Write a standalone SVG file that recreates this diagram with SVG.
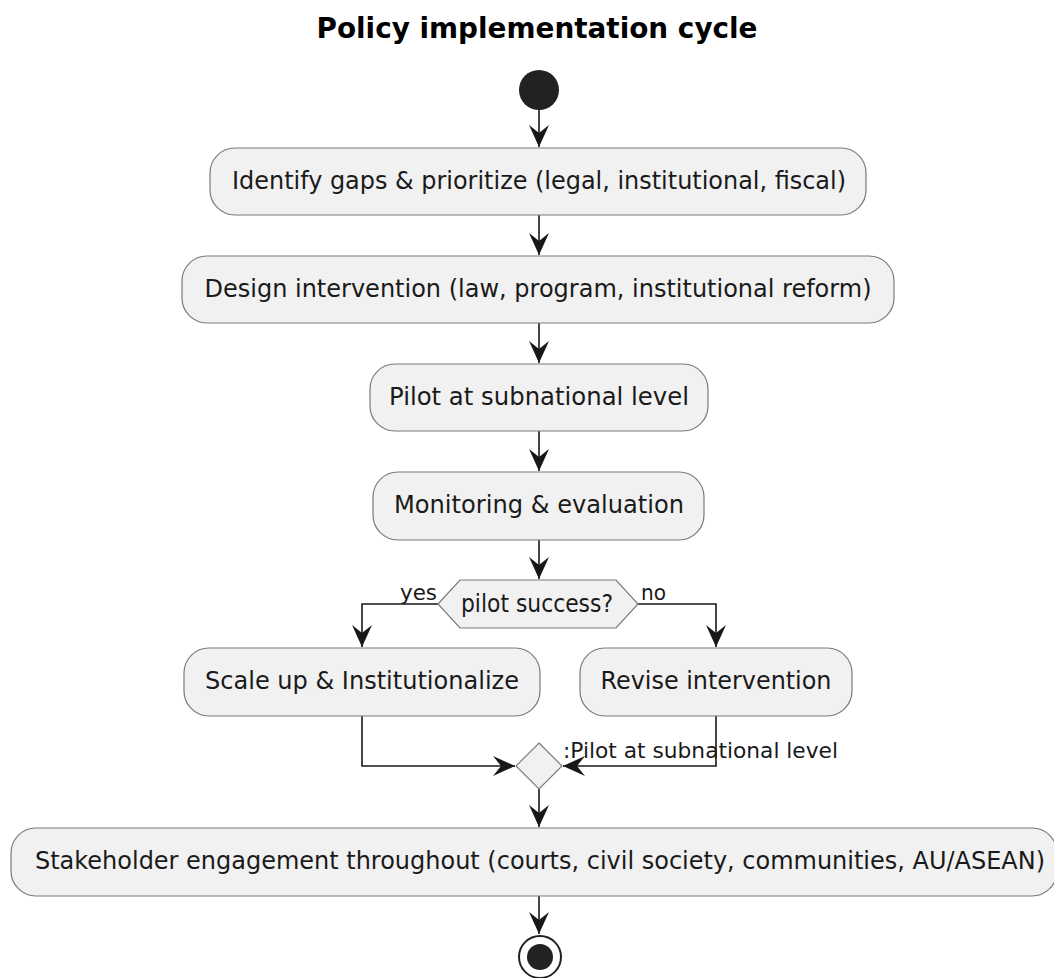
<svg xmlns="http://www.w3.org/2000/svg" width="1054" height="978" viewBox="0 0 1054 978">
<defs>
<style>
.box{fill:#F1F1F1;stroke:#7a7a7a;stroke-width:1.2}
.t{font-family:"DejaVu Sans",Verdana,sans-serif;font-size:24px;fill:#1a1a1a;text-anchor:middle}
.lbl{font-family:"DejaVu Sans",Verdana,sans-serif;font-size:21.5px;fill:#1a1a1a}
.ln{fill:none;stroke:#181818;stroke-width:1.6}
</style>
<marker id="ah" viewBox="-22 -11 24 22" refX="0" refY="0" markerWidth="24" markerHeight="22" markerUnits="userSpaceOnUse" orient="auto">
<path d="M0,0 L-22,-10 L-14,0 L-22,10 Z" fill="#181818"/>
</marker>
</defs>
<rect width="1054" height="978" fill="#ffffff"/>
<text x="537" y="38" font-family="DejaVu Sans,Verdana,sans-serif" font-size="28" font-weight="bold" text-anchor="middle" fill="#000" textLength="441" lengthAdjust="spacingAndGlyphs">Policy implementation cycle</text>

<g id="connectors">
<path class="ln" d="M539,110 L539,147" marker-end="url(#ah)"/>
<path class="ln" d="M539,215 L539,255" marker-end="url(#ah)"/>
<path class="ln" d="M539,323 L539,363" marker-end="url(#ah)"/>
<path class="ln" d="M539,431 L539,471" marker-end="url(#ah)"/>
<path class="ln" d="M539,540 L539,579" marker-end="url(#ah)"/>
<path class="ln" d="M438,604 L362,604 L362,647" marker-end="url(#ah)"/>
<path class="ln" d="M638,604 L716,604 L716,647" marker-end="url(#ah)"/>
<path class="ln" d="M362,716 L362,766 L515,766" marker-end="url(#ah)"/>
<path class="ln" d="M716,716 L716,766 L563,766" marker-end="url(#ah)"/>
<path class="ln" d="M539,789 L539,827" marker-end="url(#ah)"/>
<path class="ln" d="M539,896 L539,934" marker-end="url(#ah)"/>
<text class="lbl" x="400" y="600" textLength="37" lengthAdjust="spacingAndGlyphs">yes</text>
<text class="lbl" x="641" y="600" textLength="25" lengthAdjust="spacingAndGlyphs">no</text>
<text class="lbl" x="563" y="758" textLength="275" lengthAdjust="spacingAndGlyphs">:Pilot at subnational level</text>
</g>

<g id="start"><circle cx="539" cy="90" r="20" fill="#222"/></g>

<g id="n1"><rect class="box" x="210" y="148" width="656" height="67" rx="25"/><text class="t" x="539" y="189" textLength="614" lengthAdjust="spacingAndGlyphs">Identify gaps &amp; prioritize (legal, institutional, fiscal)</text></g>
<g id="n2"><rect class="box" x="182" y="256" width="712" height="67" rx="25"/><text class="t" x="538" y="297" textLength="667" lengthAdjust="spacingAndGlyphs">Design intervention (law, program, institutional reform)</text></g>
<g id="n3"><rect class="box" x="370" y="364" width="338" height="67" rx="25"/><text class="t" x="539" y="405" textLength="300" lengthAdjust="spacingAndGlyphs">Pilot at subnational level</text></g>
<g id="n4"><rect class="box" x="373" y="472" width="331" height="68" rx="25"/><text class="t" x="539" y="513" textLength="290" lengthAdjust="spacingAndGlyphs">Monitoring &amp; evaluation</text></g>
<g id="d1"><polygon class="box" points="438,604 460,580 616,580 638,604 616,628 460,628"/><text class="t" x="537" y="612" font-size="21" textLength="152" lengthAdjust="spacingAndGlyphs">pilot success?</text></g>
<g id="n5"><rect class="box" x="184" y="648" width="356" height="68" rx="25"/><text class="t" x="362" y="689" textLength="314" lengthAdjust="spacingAndGlyphs">Scale up &amp; Institutionalize</text></g>
<g id="n6"><rect class="box" x="580" y="648" width="272" height="68" rx="25"/><text class="t" x="716" y="689" textLength="231" lengthAdjust="spacingAndGlyphs">Revise intervention</text></g>
<g id="merge"><polygon class="box" points="539,743 562,766 539,789 516,766"/></g>
<g id="n7"><rect class="box" x="11" y="828" width="1046" height="68" rx="25"/><text class="t" x="540" y="869" textLength="1010" lengthAdjust="spacingAndGlyphs">Stakeholder engagement throughout (courts, civil society, communities, AU/ASEAN)</text></g>
<g id="end"><circle cx="540" cy="957" r="21" fill="#fff" stroke="#222" stroke-width="2"/><circle cx="540" cy="957" r="13" fill="#222"/></g>
</svg>
